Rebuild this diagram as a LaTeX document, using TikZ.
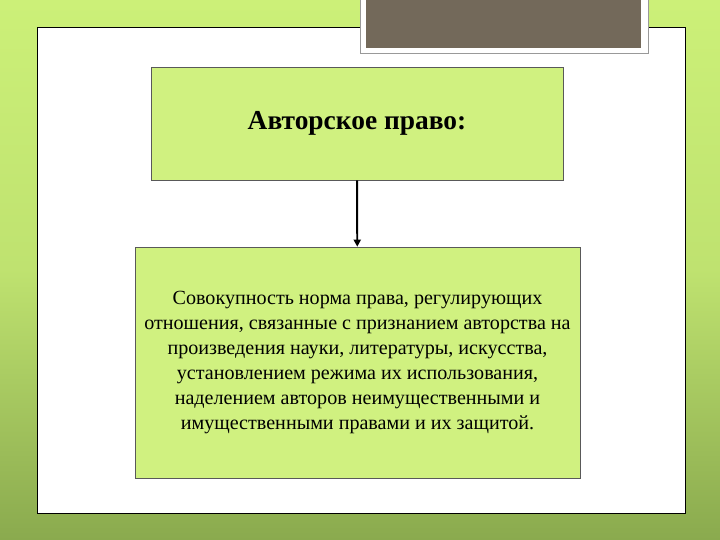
\documentclass[tikz,border=0pt]{standalone}
\usepackage{fontspec}
\setmainfont{Liberation Serif}
\usepackage{tikz}
\usetikzlibrary{positioning,arrows.meta}

\definecolor{bgtop}{RGB}{204,240,120}
\definecolor{bgbottom}{RGB}{138,170,78}
\definecolor{boxgreen}{RGB}{208,241,128}
\definecolor{taupe}{RGB}{115,105,90}

\tikzset{
    greenbox/.style={draw=black!65, fill=boxgreen, inner sep=0pt, align=center},
}

\begin{document}
\begin{tikzpicture}
            \useasboundingbox (0,0) rectangle (18,13.5);
            \shade[top color=bgtop, bottom color=bgbottom, middle color=bgtop!80!bgbottom] (0,0) rectangle (18,13.5);

            \draw[black, thin, fill=white]  (0.925,0.675) rectangle (17.125,12.825);
            \draw[black!40, fill=white]     (9.0,12.175)  rectangle (16.2,13.6);
            \fill[taupe]                    (9.15,12.3)   rectangle (16.025,13.6);

            \node[greenbox, minimum width=10.3cm, minimum height=2.825cm,
                  font=\fontsize{19.5}{23}\selectfont\bfseries]
                  (title) at (8.925,10.4125) {Авторское право:};

            \node[greenbox, minimum width=11.125cm, minimum height=5.775cm,
                  font=\fontsize{14.3}{17.9}\selectfont]
                  (def) at (8.9375,4.4375) {Совокупность норма права, регулирующих\\
                  отношения, связанные с признанием авторства на\\
                  произведения науки, литературы, искусства,\\
                  установлением режима их использования,\\
                  наделением авторов неимущественными  и\\
                  имущественными правами и их защитой.};

            \draw[black, line width=1.4pt, -{Triangle[length=5pt,width=5pt]}] (title) -- (def);
        \end{tikzpicture}
\end{document}
